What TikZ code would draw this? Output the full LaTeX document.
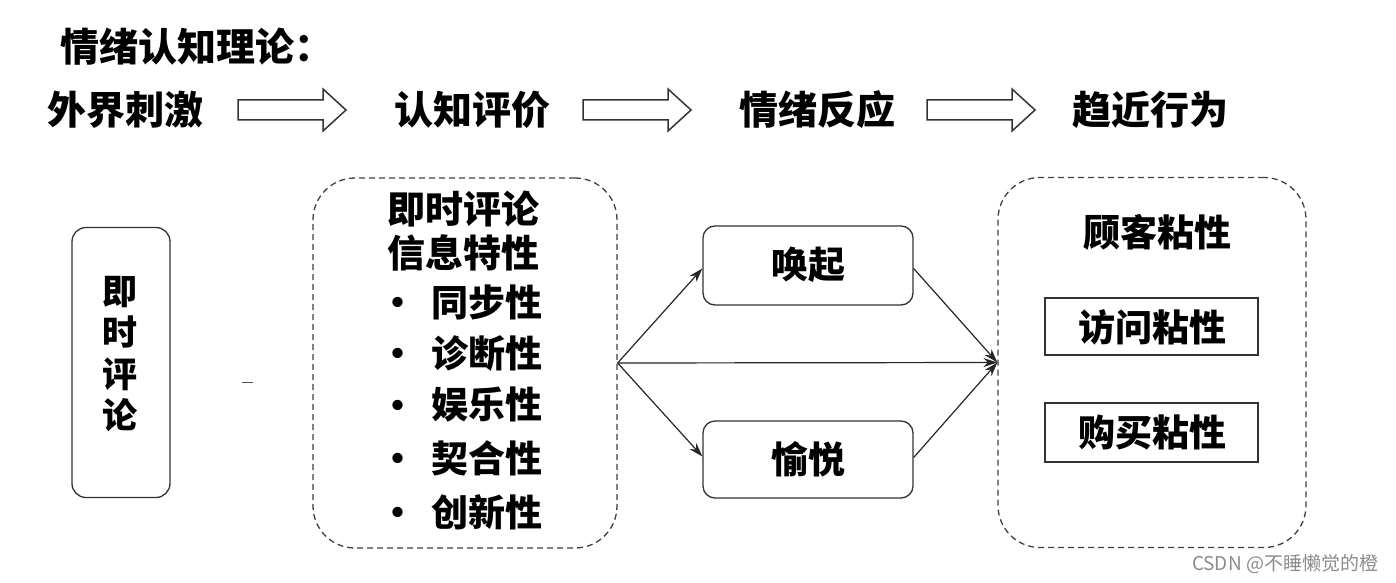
\documentclass[tikz,border=0pt]{standalone}
\usepackage{fontspec}
\newfontfamily\cjk{Noto Sans CJK SC}
\usetikzlibrary{arrows.meta}
\begin{document}
\begin{tikzpicture}[x=1pt,y=-1pt,
  bigtxt/.style={font=\cjk\bfseries\fontsize{39}{44}\selectfont, inner sep=0pt},
  boxtxt/.style={font=\cjk\bfseries\fontsize{37}{44}\selectfont, inner sep=0pt},
  solidbox/.style={draw=black!80, line width=1.3pt, rounded corners=14pt, inner sep=0pt},
  dashbox/.style={draw=black!75, line width=1.3pt, dash pattern=on 6pt off 4pt, rounded corners=42pt, inner sep=0pt},
  plainbox/.style={draw=black!80, line width=1.4pt, inner sep=0pt},
  blockarrow/.style={draw=black!80, line width=1.5pt, line join=miter},
  conn/.style={draw=black!85, line width=1.2pt, -{Stealth[length=14pt,width=9pt]}},
  bulletdot/.style={circle, fill=black, inner sep=0pt, minimum size=8pt}
]
\useasboundingbox (0,0) rectangle (1396,583);
\fill[white] (0,0) rectangle (1396,583);

% title
\node[bigtxt, anchor=west] (title) at (60,47) {情绪认知理论：};

% top row
\node[bigtxt] (s1) at (125,110) {外界刺激};
\node[bigtxt] (s2) at (472,110) {认知评价};
\node[bigtxt] (s3) at (817,110) {情绪反应};
\node[bigtxt] (s4) at (1150,110) {趋近行为};

\draw[blockarrow] (238,100) -- (323,100) -- (323,89) -- (346,110) -- (323,131) -- (323,120) -- (238,120) -- cycle;
\draw[blockarrow] (583,100) -- (668,100) -- (668,89) -- (691,110) -- (668,131) -- (668,120) -- (583,120) -- cycle;
\draw[blockarrow] (927,100) -- (1012,100) -- (1012,89) -- (1035,110) -- (1012,131) -- (1012,120) -- (927,120) -- cycle;

% left box
\node[solidbox, minimum width=98pt, minimum height=270pt] (lb) at (121,362.5) {};
\node[boxtxt, align=center, font=\cjk\bfseries\fontsize{35}{41.5}\selectfont] (lbt) at (120,354) {即\\时\\评\\论};

% stray dash
\draw[line width=1pt, black!70] (242,382) -- (253,382);

% middle dashed box
\node[dashbox, minimum width=304pt, minimum height=370pt] (db) at (465,363) {};
\node[boxtxt, align=center, font=\cjk\bfseries\fontsize{38}{44}\selectfont] (dbt) at (463,231) {即时评论\\信息特性};
\node[boxtxt, yshift=-5pt] (b1) at (398,302) {•};
\node[boxtxt] (i1) at (487,302) {同步性};
\node[boxtxt, yshift=-5pt] (b2) at (398,353) {•};
\node[boxtxt] (i2) at (487,353) {诊断性};
\node[boxtxt, yshift=-5pt] (b3) at (398,405) {•};
\node[boxtxt] (i3) at (487,405) {娱乐性};
\node[boxtxt, yshift=-5pt] (b4) at (398,458) {•};
\node[boxtxt] (i4) at (487,458) {契合性};
\node[boxtxt, yshift=-5pt] (b5) at (398,512) {•};
\node[boxtxt] (i5) at (487,512) {创新性};

% emotion boxes
\node[solidbox, rounded corners=12pt, minimum width=210pt, minimum height=79pt] (h) at (808,265.5) {};
\node[boxtxt] (ht) at (808,265) {唤起};
\node[solidbox, rounded corners=12pt, minimum width=210pt, minimum height=77pt] (y) at (808,459.5) {};
\node[boxtxt] (yt) at (808,459) {愉悦};

% right dashed box
\node[dashbox, minimum width=308pt, minimum height=370pt] (rb) at (1152,362.5) {};
\node[boxtxt] (rbt) at (1157,232) {顾客粘性};
\node[plainbox, minimum width=213pt, minimum height=57pt] (v1) at (1151.5,326.5) {};
\node[boxtxt] (v1t) at (1152,327) {访问粘性};
\node[plainbox, minimum width=213pt, minimum height=59pt] (v2) at (1151.5,432.5) {};
\node[boxtxt] (v2t) at (1152,432) {购买粘性};

% connectors
\draw[conn] (db.east) -- ([yshift=-3pt]h.west);
\draw[conn] (db.east) -- ([yshift=3pt]y.west);
\draw[conn] (db.east) -- (rb.west);
\draw[conn] ([yshift=-3pt]h.east) -- (rb.west);
\draw[conn] ([yshift=2pt]y.east) -- (rb.west);

% watermark
\node[font=\cjk\fontsize{19}{22}\selectfont, text=black!45, inner sep=0pt] (wm) at (1285,564) {CSDN @不睡懒觉的橙};
\end{tikzpicture}
\end{document}
